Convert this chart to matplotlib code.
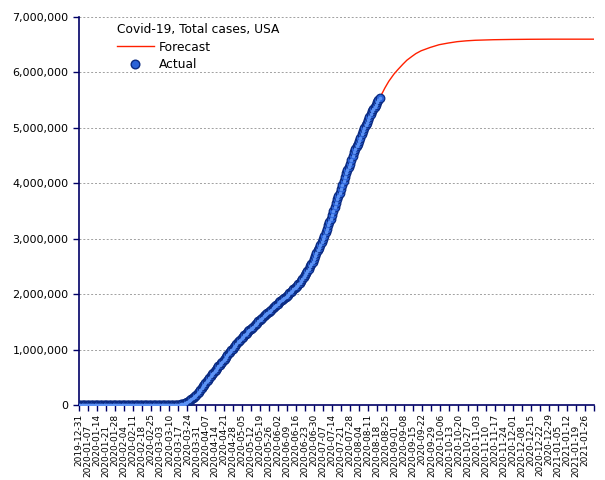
import numpy as np
import pandas as pd
import matplotlib
matplotlib.use("Agg")
import matplotlib.pyplot as plt
from matplotlib.lines import Line2D
from matplotlib.ticker import FuncFormatter

# daily total cases, USA, starting 2019-12-31
actual_start = "2019-12-31"
actual_cases = (
    [0] * 21
    + [1, 1, 1, 2, 2, 5, 5, 5, 5, 6, 7]
    + [8, 8, 11, 11, 11, 12, 12, 12, 12, 12, 13, 13, 14, 15, 15, 15, 15, 15, 15, 15,
       35, 35, 35, 53, 53, 59, 60, 62, 62]
    + [74, 98, 118, 149, 217, 262, 402, 518, 583, 959, 1281, 1663, 2179, 2727, 3499,
       4632, 6421, 7786, 13680, 19101, 25493, 33276, 43847, 53740, 65778, 83836,
       101657, 121478, 140886, 161807, 188172]
    + [213372, 243453, 275586, 308850, 337072, 366667, 396223, 429052, 461437, 496535,
       526396, 555313, 580619, 607670, 636350, 667592, 699706, 732197, 759086, 784326,
       811865, 840351, 869170, 905358, 938154, 965785, 988197, 1012582, 1039909, 1069424]
    + [1103461, 1132539, 1158040, 1180375, 1204351, 1229331, 1257023, 1283929, 1309550,
       1329260, 1347881, 1369376, 1390406, 1417774, 1442824, 1467820, 1486757, 1508308,
       1528568, 1551853, 1577147, 1600937, 1622612, 1643246, 1662302, 1681212, 1699933,
       1721750, 1746019, 1770165, 1790172]
    + [1811277, 1831821, 1851520, 1872660, 1897380, 1920061, 1938823, 1956421, 1973797,
       1994283, 2016027, 2039418, 2062996, 2088321, 2107179, 2127049, 2154069, 2181153,
       2208400, 2240000, 2273000, 2302000, 2338000, 2375000, 2416000, 2460000, 2505000,
       2545000, 2585000, 2630000]
    + [2682000, 2738000, 2794000, 2840000, 2888000, 2937000, 2996000, 3055000, 3117000,
       3184000, 3245000, 3305000, 3363000, 3432000, 3499000, 3576000, 3647000, 3711000,
       3773000, 3834000, 3899000, 3970000, 4038000, 4112000, 4178000, 4234000, 4290000,
       4351000, 4426000, 4495000, 4563000]
    + [4620000, 4667000, 4714000, 4771000, 4823000, 4883000, 4941000, 4998000, 5044000,
       5094000, 5141000, 5197000, 5249000, 5300000, 5345000, 5385000, 5420000, 5460000,
       5500000, 5540000]
)

forecast_dates = ["2020-08-20", "2020-08-24", "2020-08-27", "2020-08-31", "2020-09-03",
                  "2020-09-07", "2020-09-10", "2020-09-14", "2020-09-17", "2020-09-21",
                  "2020-09-28", "2020-10-05", "2020-10-12", "2020-10-19", "2020-10-26",
                  "2020-11-02", "2020-11-09", "2020-11-16", "2020-11-30", "2020-12-14",
                  "2021-01-01", "2021-02-02"]
forecast_cases = [5540000, 5720000, 5840000, 5970000, 6050000,
                  6150000, 6220000, 6290000, 6340000, 6390000,
                  6450000, 6500000, 6530000, 6555000, 6570000,
                  6580000, 6585000, 6590000, 6595000, 6598000,
                  6600000, 6600000]

tick_start = "2019-12-31"
tick_end = "2021-02-02"
legend_title = "Covid-19, Total cases, USA"

actual_dates = pd.date_range(actual_start, periods=len(actual_cases), freq="D")
fc_dates = pd.to_datetime(forecast_dates)
ticks = pd.date_range(tick_start, tick_end, freq="7D")
tick_labels = [d.strftime("%Y-%m-%d") for d in ticks]
tick_labels[-1] = ""

navy = "#000066"
fig = plt.figure(figsize=(6.05, 4.80), dpi=100)
ax = fig.add_axes([0.1306, 0.156, 0.8512, 0.8086])

ax.plot(fc_dates, forecast_cases, color="#ff2000", lw=1.0, zorder=2)
ax.plot(actual_dates, actual_cases, ls="none", marker="o", ms=6.2,
        mfc="#2a62d8", mec="#0b2a80", mew=0.9, zorder=3)
ax.plot(actual_dates, actual_cases, ls="none", marker="o", ms=2.6,
        mfc="#5d93f5", mec="none", zorder=4)

ax.set_xlim(pd.Timestamp(tick_start), pd.Timestamp(tick_end))
ax.set_ylim(0, 7000000)
ax.set_yticks(np.arange(0, 7000001, 1000000))
ax.yaxis.set_major_formatter(FuncFormatter(lambda v, p: f"{int(v):,}"))
ax.set_xticks(ticks)
ax.set_xticklabels(tick_labels, rotation=90, fontsize=6.5)
ax.tick_params(axis="y", labelsize=8, colors=navy, labelcolor="black", length=4, width=1)
ax.tick_params(axis="x", colors=navy, labelcolor="black", length=4, width=1)
# staggered date labels
for i, t in enumerate(ax.xaxis.get_major_ticks()):
    t.set_pad(2 if i % 2 == 0 else 10)

for s in ["top", "right"]:
    ax.spines[s].set_visible(False)
for s in ["left", "bottom"]:
    ax.spines[s].set_color(navy)
    ax.spines[s].set_linewidth(1.2)

ax.grid(axis="y", color="#a0a0a0", ls=(0, (2, 2)), lw=0.7)
ax.set_axisbelow(True)

handles = [Line2D([], [], color="#ff2000", lw=1.0),
           Line2D([], [], ls="none", marker="o", ms=6.2, mfc="#2a62d8", mec="#0b2a80")]
leg = ax.legend(handles, ["Forecast", "Actual"], title=legend_title, loc="upper left",
                bbox_to_anchor=(0.064, 0.998), frameon=False, fontsize=8.8,
                title_fontsize=8.8, handlelength=3.0, handletextpad=0.4,
                labelspacing=0.4, borderaxespad=0)
leg._legend_box.align = "left"

fig.savefig("out.png", dpi=100)
